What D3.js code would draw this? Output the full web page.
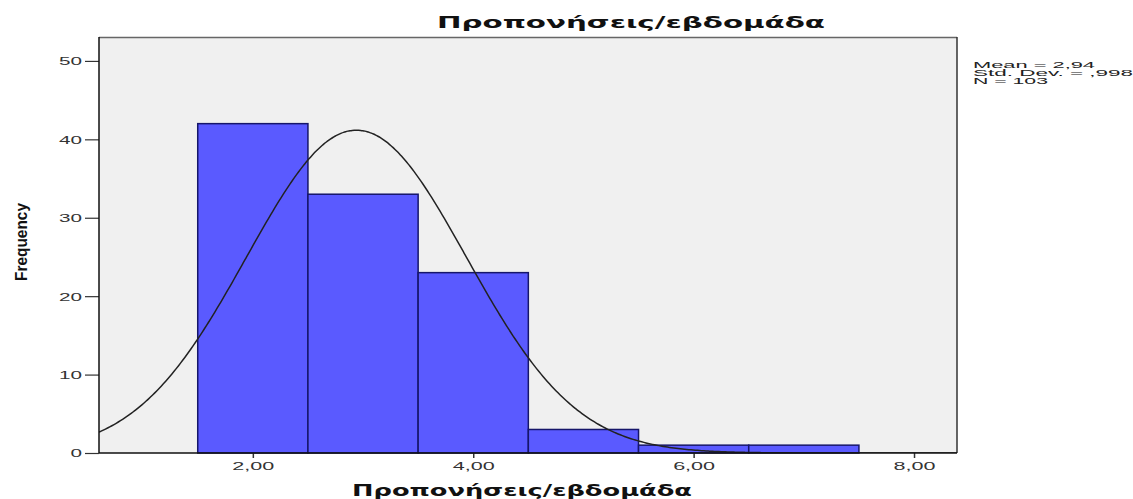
<!DOCTYPE html>
<html>
<head>
<meta charset="utf-8">
<script src="https://cdn.jsdelivr.net/npm/d3@7"></script>
<style>
  html, body { margin: 0; padding: 0; background: #fff; }
  svg { display: block; }
</style>
</head>
<body>
<svg id="chart" width="1133" height="499"></svg>
<script>
// ---- data ----
const binCenters = [2, 3, 4, 5, 6, 7];
const frequencies = [42, 33, 23, 3, 1, 1];
const binWidth = 1;
const xTickValues = [2, 4, 6, 8];
const yTickValues = [0, 10, 20, 30, 40, 50];
const statMean = 2.94;
const statSD = 0.998;
const statN = 103;
const statLabels = ["Mean = 2,94", "Std. Dev. = ,998", "N = 103"];
const titleText = "Προπονήσεις/εβδομάδα";
const xLabelText = "Προπονήσεις/εβδομάδα";
const yLabelText = "Frequency";

// ---- layout ----
const W = 1133, H = 499;
const plot = { left: 99, right: 957, top: 37, bottom: 453 };

const svg = d3.select("#chart");
const x = d3.scaleLinear().domain([0.604, 8.39]).range([plot.left, plot.right]);
const y = d3.scaleLinear().domain([0, 53.05]).range([plot.bottom, plot.top]);

// background
svg.append("rect").attr("x", plot.left).attr("y", plot.top)
  .attr("width", plot.right - plot.left).attr("height", plot.bottom - plot.top)
  .attr("fill", "#f0f0f0");
// top & right frame
svg.append("line").attr("x1", plot.left).attr("x2", plot.right).attr("y1", plot.top + 0.5).attr("y2", plot.top + 0.5)
  .attr("stroke", "#666").attr("stroke-width", 1.5);
svg.append("line").attr("x1", plot.right).attr("x2", plot.right).attr("y1", plot.top).attr("y2", plot.bottom)
  .attr("stroke", "#333").attr("stroke-width", 1.5);

svg.append("clipPath").attr("id", "clip").append("rect")
  .attr("x", plot.left).attr("y", plot.top)
  .attr("width", plot.right - plot.left).attr("height", plot.bottom - plot.top);

// bars
svg.append("g").selectAll("rect").data(binCenters).join("rect")
  .attr("x", (d) => x(d - binWidth / 2))
  .attr("width", (d) => x(d + binWidth / 2) - x(d - binWidth / 2))
  .attr("y", (d, i) => y(frequencies[i]))
  .attr("height", (d, i) => y(0) - y(frequencies[i]))
  .attr("fill", "#5a5aff")
  .attr("stroke", "#16166a")
  .attr("stroke-width", 1.5);

// normal curve
const curveXs = d3.range(0, 401).map(i => x.domain()[0] + (x.domain()[1] - x.domain()[0]) * i / 400);
const pdf = v => statN * binWidth * Math.exp(-0.5 * Math.pow((v - statMean) / statSD, 2)) / (statSD * Math.sqrt(2 * Math.PI));
svg.append("path")
  .attr("clip-path", "url(#clip)")
  .attr("d", d3.line().x(d => x(d)).y(d => y(pdf(d))).curve(d3.curveBasis)(curveXs))
  .attr("fill", "none").attr("stroke", "#222").attr("stroke-width", 1.5);

// axes
const yAxis = d3.axisLeft(y).tickValues(yTickValues).tickSize(14).tickPadding(3).tickFormat(d3.format("d"));
const gy = svg.append("g").attr("transform", `translate(${plot.left},0)`).call(yAxis);
gy.select(".domain").remove();
gy.selectAll("line").attr("stroke", "#333").attr("stroke-width", 1.2);
gy.selectAll("text")
  .attr("font-family", "Liberation Sans, Arial, sans-serif").attr("font-size", 11).attr("fill", "#333")
  .attr("dy", "0.35em")
  .each(function (d) {
    const s = String(d);
    d3.select(this).attr("textLength", s.length * 11.5).attr("lengthAdjust", "spacingAndGlyphs");
  });

const fmtComma = d => d.toFixed(2).replace(".", ",");
const xAxis = d3.axisBottom(x).tickValues(xTickValues).tickSize(5).tickPadding(4).tickFormat(fmtComma);
const gx = svg.append("g").attr("transform", `translate(0,${plot.bottom})`).call(xAxis);
gx.select(".domain").remove();
gx.selectAll("line").attr("stroke", "#333").attr("stroke-width", 1.5);
gx.selectAll("text")
  .attr("font-family", "Liberation Sans, Arial, sans-serif").attr("font-size", 11).attr("fill", "#333")
  .attr("textLength", 42).attr("lengthAdjust", "spacingAndGlyphs");

// axis lines
svg.append("line").attr("x1", plot.left).attr("x2", plot.left).attr("y1", plot.top).attr("y2", plot.bottom)
  .attr("stroke", "#111").attr("stroke-width", 1.5);
svg.append("line").attr("x1", plot.left).attr("x2", plot.right).attr("y1", plot.bottom).attr("y2", plot.bottom)
  .attr("stroke", "#111").attr("stroke-width", 1.5);

// title
svg.append("text").attr("x", 631).attr("y", 28).attr("text-anchor", "middle")
  .attr("font-family", "DejaVu Sans, sans-serif").attr("font-weight", "bold").attr("font-size", 16)
  .attr("fill", "#111")
  .attr("textLength", 388).attr("lengthAdjust", "spacingAndGlyphs")
  .text(titleText);

// x label
svg.append("text").attr("x", 522).attr("y", 496).attr("text-anchor", "middle")
  .attr("font-family", "DejaVu Sans, sans-serif").attr("font-weight", "bold").attr("font-size", 15)
  .attr("fill", "#111")
  .attr("textLength", 340).attr("lengthAdjust", "spacingAndGlyphs")
  .text(xLabelText);

// y label
svg.append("text").attr("transform", "translate(27,242) rotate(-90)").attr("text-anchor", "middle")
  .attr("font-family", "Liberation Sans Narrow, Liberation Sans, sans-serif").attr("font-weight", "bold").attr("font-size", 17)
  .attr("fill", "#111")
  .attr("textLength", 78).attr("lengthAdjust", "spacingAndGlyphs")
  .text(yLabelText);

// stats
const statWidths = [122, 160, 75];
svg.append("g").selectAll("text").data(statLabels).join("text")
  .attr("x", 973).attr("y", (d, i) => 68 + i * 8)
  .attr("font-family", "Liberation Sans, Arial, sans-serif").attr("font-size", 9)
  .attr("fill", "#222")
  .attr("textLength", (d, i) => statWidths[i]).attr("lengthAdjust", "spacingAndGlyphs")
  .text(d => d);
</script>
</body>
</html>
